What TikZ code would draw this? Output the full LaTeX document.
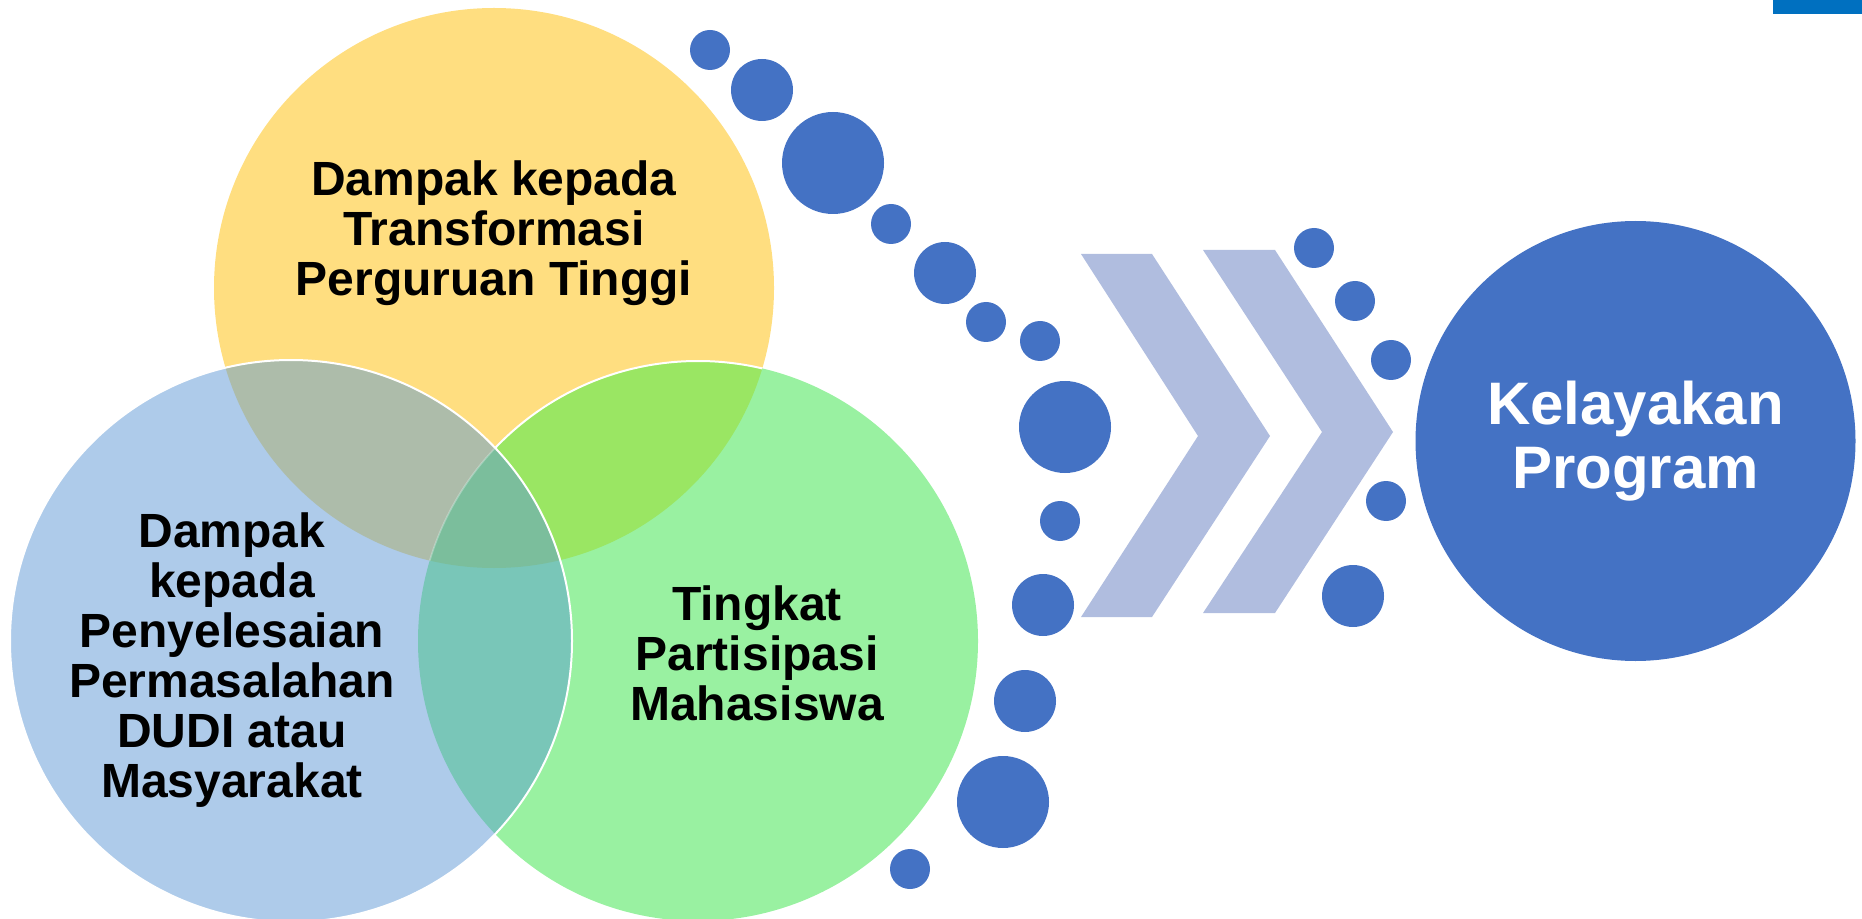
\documentclass[tikz,border=0pt]{standalone}
\usepackage{fontspec}
\setmainfont{Liberation Sans}
\definecolor{vyellow}{RGB}{255,222,128}
\definecolor{vblue}{RGB}{174,203,234}
\definecolor{vgreen}{RGB}{153,241,161}
\definecolor{vyb}{RGB}{173,188,170}
\definecolor{vyg}{RGB}{154,230,99}
\definecolor{vbg}{RGB}{121,198,184}
\definecolor{vall}{RGB}{123,190,156}
\definecolor{dotblue}{RGB}{68,114,196}
\definecolor{chevron}{RGB}{176,189,223}
\definecolor{barblue}{RGB}{0,112,192}

\begin{document}
\begin{tikzpicture}[x=0.5pt,y=-0.5pt,
  lbl/.style={align=center,font=\fontsize{24}{25}\selectfont\bfseries},
  bead/.style={fill=dotblue}]
\useasboundingbox (0,0) rectangle (1862,919);
\coordinate (cy) at (494,288);
\coordinate (cb) at (291,641);
\coordinate (cg) at (698,641);

% venn circles
\fill[vyellow] (cy) circle (280);
\fill[vgreen] (cg) circle (280);
\begin{scope}
\clip (cy) circle (280);
\fill[vyg] (cg) circle (280);
\draw[white, line width=1pt] (cg) circle (280);
\end{scope}
\fill[vblue] (cb) circle (281);
\begin{scope}
\clip (cy) circle (280);
\fill[vyb] (cb) circle (281);
\end{scope}
\begin{scope}
\clip (cg) circle (280);
\fill[vbg] (cb) circle (281);
\clip (cy) circle (280);
\fill[vall] (cb) circle (281);
\end{scope}
\begin{scope}
\clip (cy) circle (280);
\clip (cb) circle (281);
\draw[white, opacity=.3, line width=.8pt] (cg) circle (280);
\end{scope}
\draw[white, line width=1pt] (cb) circle (281);

\node[lbl] (dampakpt) at (494,233) {Dampak kepada\\Transformasi\\Perguruan Tinggi};
\node[lbl] (dampakdudi) at (232,660) {Dampak\\kepada\\Penyelesaian\\Permasalahan\\DUDI atau\\Masyarakat};
\node[lbl] (partisipasi) at (757,653) {Tingkat\\Partisipasi\\Mahasiswa};

% dots
\fill[bead] (710,50) circle (20);
\fill[bead] (762,90) circle (31);
\fill[bead] (833,163) circle (51);
\fill[bead] (891,224) circle (20);
\fill[bead] (945,273) circle (31);
\fill[bead] (986,322) circle (20);
\fill[bead] (1040,341) circle (20);
\fill[bead] (1065,427) circle (46);
\fill[bead] (1060,521) circle (20);
\fill[bead] (1043,605) circle (31);
\fill[bead] (1025,701) circle (31);
\fill[bead] (1003,802) circle (46);
\fill[bead] (910,869) circle (20);
\fill[bead] (1314,248) circle (20);
\fill[bead] (1355,301) circle (20);
\fill[bead] (1391,360) circle (20);
\fill[bead] (1386,501) circle (20);
\fill[bead] (1353,596) circle (31);

% chevrons
\fill[chevron] (1081,254) -- (1152,254) -- (1270,436) -- (1152,617) -- (1081,617) -- (1198,436) -- cycle;
\fill[chevron] (1203,250) -- (1275,250) -- (1393,432) -- (1275,613) -- (1203,613) -- (1322,432) -- cycle;

\node[circle, fill=dotblue, minimum size=220pt, inner sep=0pt, text=white, align=center,
  font=\fontsize{30}{32}\selectfont\bfseries] (kelayakan) at (1635.5,441) {Kelayakan\\Program};

\fill[barblue] (1773,0) rectangle (1862,14);
\end{tikzpicture}
\end{document}
